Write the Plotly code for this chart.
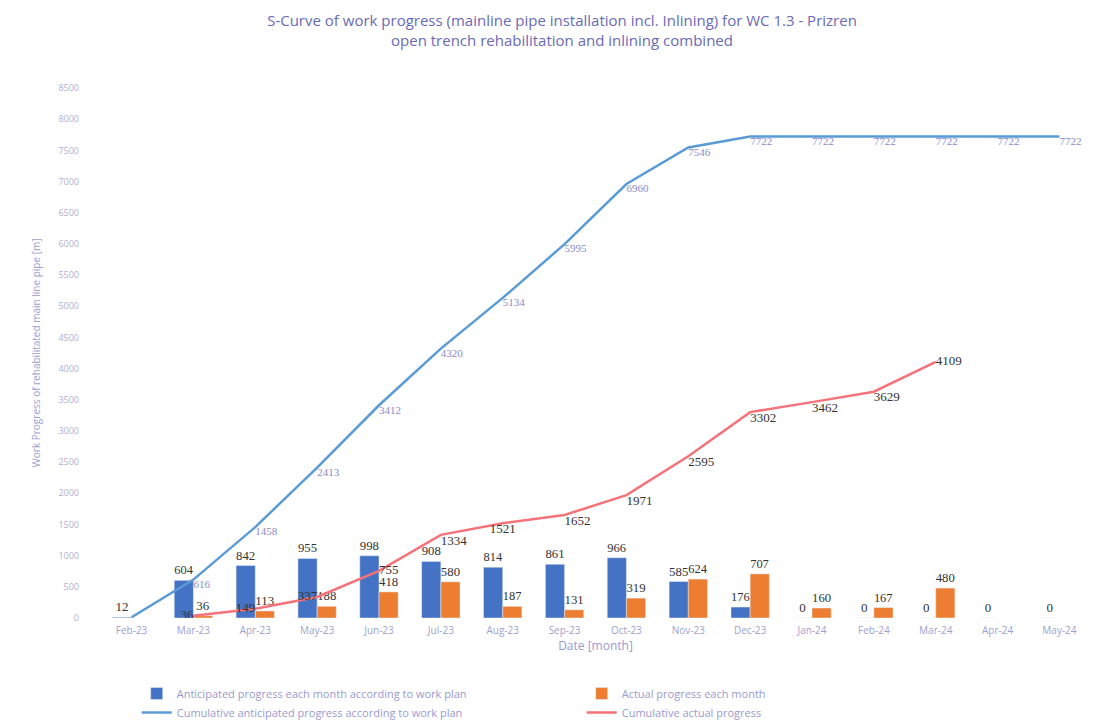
import plotly.graph_objects as go

months = ["Feb-23", "Mar-23", "Apr-23", "May-23", "Jun-23", "Jul-23", "Aug-23", "Sep-23",
          "Oct-23", "Nov-23", "Dec-23", "Jan-24", "Feb-24", "Mar-24", "Apr-24", "May-24"]
planned_monthly = [12, 604, 842, 955, 998, 908, 814, 861, 966, 585, 176, 0, 0, 0, 0, 0]
actual_monthly = [None, 36, 113, 188, 418, 580, 187, 131, 319, 624, 707, 160, 167, 480, None, None]
planned_cum = [12, 616, 1458, 2413, 3412, 4320, 5134, 5995, 6960, 7546, 7722, 7722, 7722, 7722, 7722, 7722]
actual_cum = [None, 36, 149, 337, 755, 1334, 1521, 1652, 1971, 2595, 3302, 3462, 3629, 4109, None, None]
y_ticks = list(range(0, 8501, 500))

serif = "Liberation Serif"
sans = "Open Sans"

actual_cum_pos = ["bottom right", "middle left", "middle left", "middle left", "middle right",
                  "bottom right", "bottom center", "bottom right", "bottom right", "bottom right",
                  "bottom right", "bottom right", "bottom right", "middle right", "bottom right",
                  "bottom right"]

# the first cumulative point (12) shares its label with the first bar label in the reference
planned_cum_text = [""] + [str(v) for v in planned_cum[1:]]

fig = go.Figure()
fig.add_trace(go.Bar(
    x=months, y=planned_monthly, name="Anticipated progress each month according to work plan",
    marker_color="#4472C4", text=[str(v) for v in planned_monthly], textposition="outside",
    cliponaxis=False, textfont=dict(family=serif, size=13, color="#333333")))
fig.add_trace(go.Bar(
    x=months, y=actual_monthly, name="Actual progress each month",
    marker_color="#ED7D31", text=[("" if v is None else str(v)) for v in actual_monthly],
    textposition="outside", cliponaxis=False,
    textfont=dict(family=serif, size=13, color="#333333")))
fig.add_trace(go.Scatter(
    x=months, y=planned_cum, name="Cumulative anticipated progress according to work plan",
    mode="lines+text", line=dict(color="#5B9BD5", width=2.5),
    text=planned_cum_text, textposition="bottom right",
    textfont=dict(family=serif, size=11, color="#8A8AC8")))
fig.add_trace(go.Scatter(
    x=months, y=actual_cum, name="Cumulative actual progress",
    mode="lines+text", line=dict(color="#F4727A", width=2.5), connectgaps=False,
    text=[("" if v is None else str(v)) for v in actual_cum], textposition=actual_cum_pos,
    textfont=dict(family=serif, size=13, color="#333333")))

fig.update_layout(
    width=1108, height=728,
    paper_bgcolor="white", plot_bgcolor="white",
    barmode="group", bargap=0.38, bargroupgap=0.0,
    margin=dict(l=72, r=5, t=80, b=118),
    title=dict(text="S-Curve of work progress (mainline pipe installation incl. Inlining) for WC 1.3 - Prizren<br>open trench rehabilitation and inlining combined",
               x=0.5, xanchor="center", y=0.975, yanchor="top",
               font=dict(family=sans, size=15, color="#6A6AB8")),
    xaxis=dict(title=dict(text="Date [month]", font=dict(family=sans, size=12, color="#9A9AD0"), standoff=4),
               tickfont=dict(family=sans, size=10, color="#A0A0D0"), showgrid=False,
               showline=False, ticks="", ticklabelstandoff=5),
    yaxis=dict(title=dict(text="Work Progress of rehabilitated main line pipe [m]",
                          font=dict(family=sans, size=10, color="#A0A0D0")),
               range=[0, 8500], tickvals=y_ticks, tickformat="d",
               tickfont=dict(family=sans, size=9, color="#B0B0D0"), showgrid=False,
               zeroline=False, showline=False),
    legend=dict(orientation="h", x=0.055, xanchor="left", y=-0.115, yanchor="top",
                font=dict(family=sans, size=11, color="#9A9AD0"), traceorder="normal",
                entrywidth=400, entrywidthmode="pixels", tracegroupgap=0),
    font=dict(family=sans),
)

fig.write_html("out.html")
